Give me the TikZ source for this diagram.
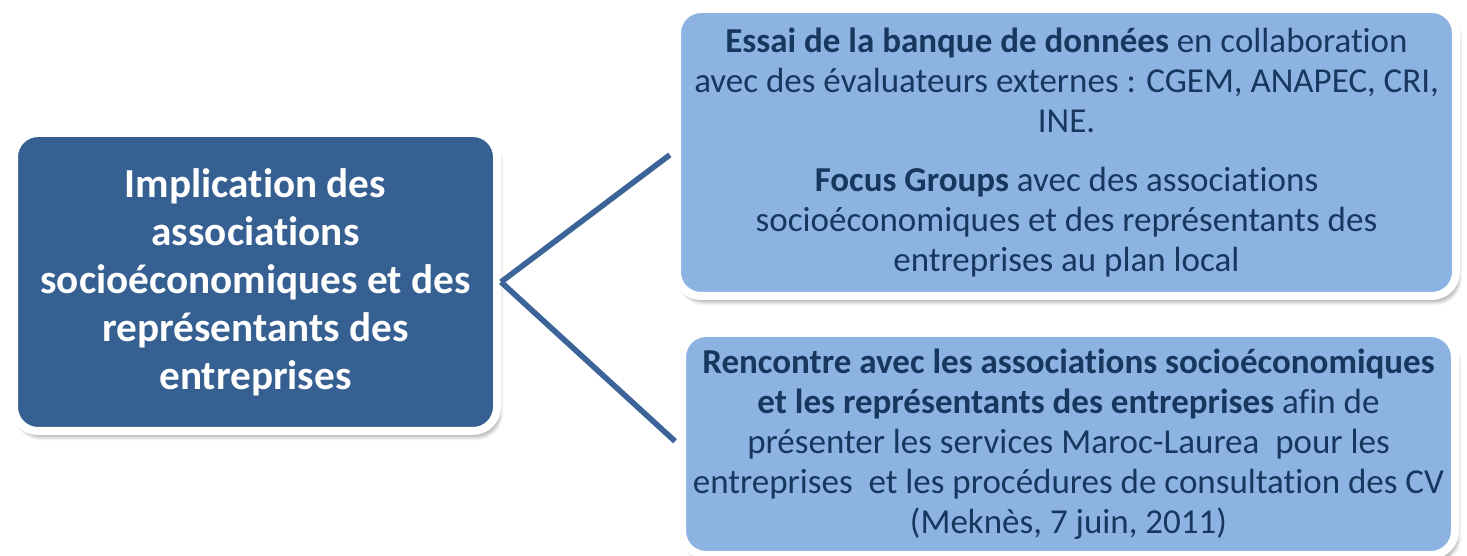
\documentclass[tikz,border=0pt]{standalone}
\usepackage{fontspec}
\setmainfont{Carlito}[Ligatures=NoCommon]
\usepackage{xcolor}
\usepackage{tikz}
\usetikzlibrary{shadows.blur}
\definecolor{bleufonce}{RGB}{55,96,146}
\definecolor{bleuclair}{RGB}{141,179,226}
\definecolor{texte}{RGB}{23,55,94}
\definecolor{trait}{RGB}{60,100,152}

\tikzset{
  boite/.style={draw=white, line width=4pt, rounded corners=12pt, align=center, inner sep=0pt,
    blur shadow={shadow xshift=1.5pt, shadow yshift=-3pt, shadow blur steps=6, shadow opacity=35}},
  principal/.style={boite, fill=bleufonce, text=white, minimum width=241.5pt, minimum height=149pt,
    font=\fontsize{20.6}{24}\selectfont\bfseries},
  action/.style={boite, fill=bleuclair, text=texte, font=\fontsize{17.5}{20}\selectfont},
  lien/.style={draw=trait, line width=2.8pt, line join=miter, shorten >=2pt}
}

\begin{document}
\begin{tikzpicture}[x=1pt,y=1pt]
    \useasboundingbox (0,0) rectangle (733.5,278);

    % boite de gauche
    \node[principal] (implication) at (127.75,137)
        {Implication des\\ associations\\ socioéconomiques et des\\ représentants des\\ entreprises};

    % boites de droite
    \node[action, minimum width=389.5pt, minimum height=143.5pt] (essai) at (533.25,201.75)
        {\textbf{Essai de la banque de données} en collaboration\\
         avec des évaluateurs externes : CGEM, ANAPEC, CRI,\\
         INE.\\[9.5pt]
         \textbf{Focus Groups} avec des associations\\
         socioéconomiques et des représentants des\\
         entreprises au plan local};
    \node[action, minimum width=386.5pt, minimum height=111pt] (rencontre) at (534.25,56)
        {\textbf{Rencontre avec les associations socioéconomiques}\\
         \textbf{et les représentants des entreprises} afin de\\
         présenter les services Maroc-Laurea~ pour les\\
         entreprises~ et les procédures de consultation des CV\\
         (Meknès, 7 juin, 2011)};

    \draw[lien] (implication.east) -- (essai.west);
    \draw[lien] (implication.east) -- (rencontre.west);
\end{tikzpicture}
\end{document}
